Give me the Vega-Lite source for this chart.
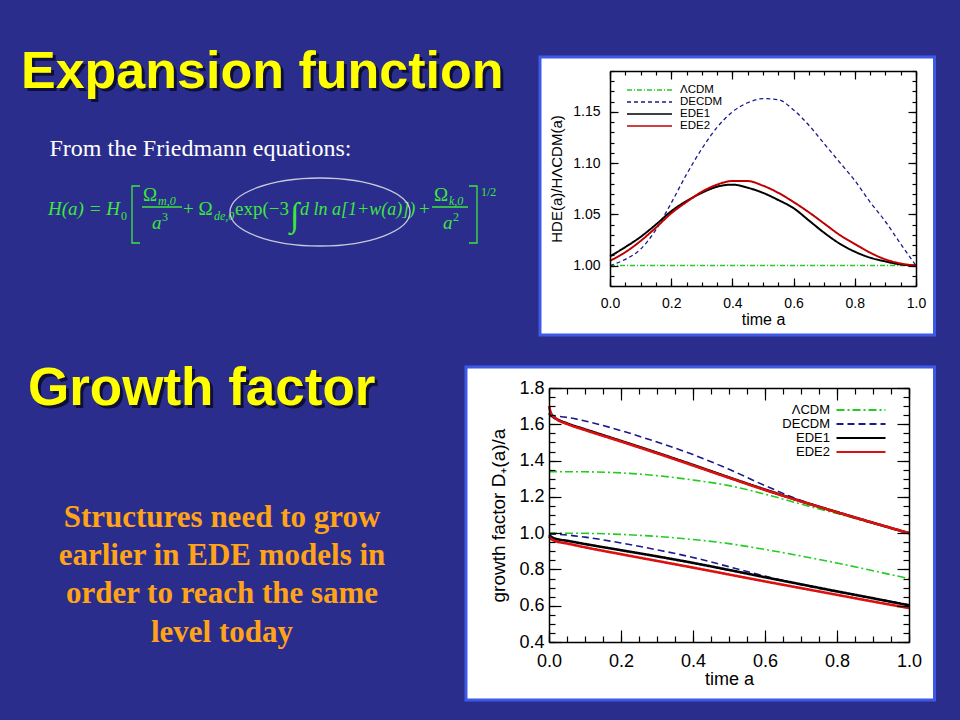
{
  "$schema": "https://vega.github.io/schema/vega-lite/v6.json",
  "background": "#2a2d8c",
  "padding": {"left": 0, "top": 0, "right": 24, "bottom": 0},
  "columns": 2,
  "align": "each",
  "bounds": "flush",
  "spacing": 0,
  "resolve": {"scale": {"color": "independent", "strokeDash": "independent"}, "legend": {"color": "independent", "strokeDash": "independent"}},
  "config": {
    "view": {"stroke": null},
    "axis": {"domainColor": "black", "domainWidth": 1.5, "tickColor": "black", "tickWidth": 1.2, "labelColor": "black", "titleColor": "black", "labelFont": "Liberation Sans", "titleFont": "Liberation Sans", "titleFontWeight": "normal", "grid": false, "labelFlush": false, "labelOverlap": false},
    "legend": {"labelColor": "black", "labelFont": "Liberation Sans", "padding": 0}
  },
  "datasets": {
    "slide": [{
      "title1": "Expansion function",
      "sub": "From the Friedmann equations:",
      "f1": "H(a) = H", "f2": "0", "f4": "Ω", "f5": "m,0", "f7": "a", "f8": "3",
      "f9": "+ Ω", "f10": "de,0", "f11": "exp(−3", "f12": "∫", "f13": "d ln a[1+w(a)])", "f14": "+",
      "f15": "Ω", "f16": "k,0", "f18": "a", "f19": "2", "f21": "1/2",
      "title2": "Growth factor",
      "body": "Structures need to grow\nearlier in EDE models in\norder to reach the same\nlevel today"
    }],
    "expansion": [
      {"series": "ΛCDM", "a": 0, "h": 1.0}, {"series": "ΛCDM", "a": 1, "h": 1.0},
      {"series": "DECDM", "a": 0, "h": 1.0}, {"series": "DECDM", "a": 0.05, "h": 1.006}, {"series": "DECDM", "a": 0.1, "h": 1.016}, {"series": "DECDM", "a": 0.15, "h": 1.035}, {"series": "DECDM", "a": 0.2, "h": 1.061}, {"series": "DECDM", "a": 0.25, "h": 1.089}, {"series": "DECDM", "a": 0.3, "h": 1.114}, {"series": "DECDM", "a": 0.35, "h": 1.135}, {"series": "DECDM", "a": 0.4, "h": 1.15}, {"series": "DECDM", "a": 0.45, "h": 1.159}, {"series": "DECDM", "a": 0.5, "h": 1.163}, {"series": "DECDM", "a": 0.55, "h": 1.162}, {"series": "DECDM", "a": 0.6, "h": 1.152}, {"series": "DECDM", "a": 0.65, "h": 1.137}, {"series": "DECDM", "a": 0.7, "h": 1.119}, {"series": "DECDM", "a": 0.75, "h": 1.101}, {"series": "DECDM", "a": 0.8, "h": 1.083}, {"series": "DECDM", "a": 0.85, "h": 1.062}, {"series": "DECDM", "a": 0.9, "h": 1.043}, {"series": "DECDM", "a": 0.95, "h": 1.021}, {"series": "DECDM", "a": 1, "h": 1.0},
      {"series": "EDE1", "a": 0, "h": 1.009}, {"series": "EDE1", "a": 0.05, "h": 1.018}, {"series": "EDE1", "a": 0.1, "h": 1.028}, {"series": "EDE1", "a": 0.15, "h": 1.04}, {"series": "EDE1", "a": 0.2, "h": 1.053}, {"series": "EDE1", "a": 0.25, "h": 1.063}, {"series": "EDE1", "a": 0.3, "h": 1.071}, {"series": "EDE1", "a": 0.35, "h": 1.077}, {"series": "EDE1", "a": 0.4, "h": 1.079}, {"series": "EDE1", "a": 0.45, "h": 1.076}, {"series": "EDE1", "a": 0.5, "h": 1.071}, {"series": "EDE1", "a": 0.55, "h": 1.064}, {"series": "EDE1", "a": 0.6, "h": 1.056}, {"series": "EDE1", "a": 0.65, "h": 1.044}, {"series": "EDE1", "a": 0.7, "h": 1.032}, {"series": "EDE1", "a": 0.75, "h": 1.0215}, {"series": "EDE1", "a": 0.8, "h": 1.0135}, {"series": "EDE1", "a": 0.85, "h": 1.0077}, {"series": "EDE1", "a": 0.9, "h": 1.004}, {"series": "EDE1", "a": 0.95, "h": 1.001}, {"series": "EDE1", "a": 1, "h": 1.0},
      {"series": "EDE2", "a": 0, "h": 1.0046}, {"series": "EDE2", "a": 0.05, "h": 1.013}, {"series": "EDE2", "a": 0.1, "h": 1.024}, {"series": "EDE2", "a": 0.15, "h": 1.037}, {"series": "EDE2", "a": 0.2, "h": 1.051}, {"series": "EDE2", "a": 0.25, "h": 1.062}, {"series": "EDE2", "a": 0.3, "h": 1.072}, {"series": "EDE2", "a": 0.35, "h": 1.079}, {"series": "EDE2", "a": 0.4, "h": 1.0826}, {"series": "EDE2", "a": 0.45, "h": 1.0825}, {"series": "EDE2", "a": 0.5, "h": 1.078}, {"series": "EDE2", "a": 0.55, "h": 1.071}, {"series": "EDE2", "a": 0.6, "h": 1.062}, {"series": "EDE2", "a": 0.65, "h": 1.052}, {"series": "EDE2", "a": 0.7, "h": 1.041}, {"series": "EDE2", "a": 0.75, "h": 1.03}, {"series": "EDE2", "a": 0.8, "h": 1.021}, {"series": "EDE2", "a": 0.85, "h": 1.0126}, {"series": "EDE2", "a": 0.9, "h": 1.006}, {"series": "EDE2", "a": 0.95, "h": 1.002}, {"series": "EDE2", "a": 1, "h": 1.0}
    ],
    "growth": [
      {"series": "ΛCDM", "group": "upper", "a": 0, "d": 1.339}, {"series": "ΛCDM", "group": "upper", "a": 0.1, "d": 1.338}, {"series": "ΛCDM", "group": "upper", "a": 0.2, "d": 1.332}, {"series": "ΛCDM", "group": "upper", "a": 0.3, "d": 1.317}, {"series": "ΛCDM", "group": "upper", "a": 0.4, "d": 1.293}, {"series": "ΛCDM", "group": "upper", "a": 0.5, "d": 1.262}, {"series": "ΛCDM", "group": "upper", "a": 0.6, "d": 1.215}, {"series": "ΛCDM", "group": "upper", "a": 0.7, "d": 1.16}, {"series": "ΛCDM", "group": "upper", "a": 0.8, "d": 1.108}, {"series": "ΛCDM", "group": "upper", "a": 0.9, "d": 1.054}, {"series": "ΛCDM", "group": "upper", "a": 1, "d": 1.0},
      {"series": "ΛCDM", "group": "lower", "a": 0, "d": 1.0}, {"series": "ΛCDM", "group": "lower", "a": 0.1, "d": 0.999}, {"series": "ΛCDM", "group": "lower", "a": 0.2, "d": 0.993}, {"series": "ΛCDM", "group": "lower", "a": 0.3, "d": 0.982}, {"series": "ΛCDM", "group": "lower", "a": 0.4, "d": 0.965}, {"series": "ΛCDM", "group": "lower", "a": 0.5, "d": 0.942}, {"series": "ΛCDM", "group": "lower", "a": 0.6, "d": 0.91}, {"series": "ΛCDM", "group": "lower", "a": 0.7, "d": 0.874}, {"series": "ΛCDM", "group": "lower", "a": 0.8, "d": 0.835}, {"series": "ΛCDM", "group": "lower", "a": 0.9, "d": 0.793}, {"series": "ΛCDM", "group": "lower", "a": 1, "d": 0.749},
      {"series": "DECDM", "group": "upper", "a": 0, "d": 1.647}, {"series": "DECDM", "group": "upper", "a": 0.05, "d": 1.638}, {"series": "DECDM", "group": "upper", "a": 0.1, "d": 1.618}, {"series": "DECDM", "group": "upper", "a": 0.2, "d": 1.565}, {"series": "DECDM", "group": "upper", "a": 0.3, "d": 1.502}, {"series": "DECDM", "group": "upper", "a": 0.4, "d": 1.433}, {"series": "DECDM", "group": "upper", "a": 0.5, "d": 1.352}, {"series": "DECDM", "group": "upper", "a": 0.6, "d": 1.262}, {"series": "DECDM", "group": "upper", "a": 0.7, "d": 1.18}, {"series": "DECDM", "group": "upper", "a": 0.8, "d": 1.115}, {"series": "DECDM", "group": "upper", "a": 0.9, "d": 1.057}, {"series": "DECDM", "group": "upper", "a": 1, "d": 1.0},
      {"series": "DECDM", "group": "lower", "a": 0, "d": 0.996}, {"series": "DECDM", "group": "lower", "a": 0.05, "d": 0.99}, {"series": "DECDM", "group": "lower", "a": 0.1, "d": 0.978}, {"series": "DECDM", "group": "lower", "a": 0.2, "d": 0.946}, {"series": "DECDM", "group": "lower", "a": 0.3, "d": 0.908}, {"series": "DECDM", "group": "lower", "a": 0.4, "d": 0.866}, {"series": "DECDM", "group": "lower", "a": 0.5, "d": 0.815}, {"series": "DECDM", "group": "lower", "a": 0.6, "d": 0.763}, {"series": "DECDM", "group": "lower", "a": 0.7, "d": 0.716}, {"series": "DECDM", "group": "lower", "a": 0.8, "d": 0.677}, {"series": "DECDM", "group": "lower", "a": 0.9, "d": 0.641}, {"series": "DECDM", "group": "lower", "a": 1, "d": 0.605},
      {"series": "EDE1", "group": "upper", "a": 0, "d": 1.662}, {"series": "EDE1", "group": "upper", "a": 0.01, "d": 1.642}, {"series": "EDE1", "group": "upper", "a": 0.02, "d": 1.63}, {"series": "EDE1", "group": "upper", "a": 0.05, "d": 1.605}, {"series": "EDE1", "group": "upper", "a": 0.1, "d": 1.572}, {"series": "EDE1", "group": "upper", "a": 0.2, "d": 1.508}, {"series": "EDE1", "group": "upper", "a": 0.3, "d": 1.443}, {"series": "EDE1", "group": "upper", "a": 0.4, "d": 1.376}, {"series": "EDE1", "group": "upper", "a": 0.5, "d": 1.307}, {"series": "EDE1", "group": "upper", "a": 0.6, "d": 1.24}, {"series": "EDE1", "group": "upper", "a": 0.7, "d": 1.176}, {"series": "EDE1", "group": "upper", "a": 0.8, "d": 1.116}, {"series": "EDE1", "group": "upper", "a": 0.9, "d": 1.057}, {"series": "EDE1", "group": "upper", "a": 1, "d": 1.0},
      {"series": "EDE1", "group": "lower", "a": 0, "d": 0.99}, {"series": "EDE1", "group": "lower", "a": 0.01, "d": 0.975}, {"series": "EDE1", "group": "lower", "a": 0.02, "d": 0.968}, {"series": "EDE1", "group": "lower", "a": 0.05, "d": 0.958}, {"series": "EDE1", "group": "lower", "a": 0.1, "d": 0.94}, {"series": "EDE1", "group": "lower", "a": 0.2, "d": 0.906}, {"series": "EDE1", "group": "lower", "a": 0.3, "d": 0.872}, {"series": "EDE1", "group": "lower", "a": 0.4, "d": 0.836}, {"series": "EDE1", "group": "lower", "a": 0.5, "d": 0.797}, {"series": "EDE1", "group": "lower", "a": 0.6, "d": 0.757}, {"series": "EDE1", "group": "lower", "a": 0.7, "d": 0.718}, {"series": "EDE1", "group": "lower", "a": 0.8, "d": 0.679}, {"series": "EDE1", "group": "lower", "a": 0.9, "d": 0.641}, {"series": "EDE1", "group": "lower", "a": 1, "d": 0.602},
      {"series": "EDE2", "group": "upper", "a": 0, "d": 1.7}, {"series": "EDE2", "group": "upper", "a": 0.005, "d": 1.665}, {"series": "EDE2", "group": "upper", "a": 0.01, "d": 1.648}, {"series": "EDE2", "group": "upper", "a": 0.02, "d": 1.63}, {"series": "EDE2", "group": "upper", "a": 0.05, "d": 1.602}, {"series": "EDE2", "group": "upper", "a": 0.1, "d": 1.568}, {"series": "EDE2", "group": "upper", "a": 0.2, "d": 1.505}, {"series": "EDE2", "group": "upper", "a": 0.3, "d": 1.44}, {"series": "EDE2", "group": "upper", "a": 0.4, "d": 1.373}, {"series": "EDE2", "group": "upper", "a": 0.5, "d": 1.305}, {"series": "EDE2", "group": "upper", "a": 0.6, "d": 1.238}, {"series": "EDE2", "group": "upper", "a": 0.7, "d": 1.175}, {"series": "EDE2", "group": "upper", "a": 0.8, "d": 1.115}, {"series": "EDE2", "group": "upper", "a": 0.9, "d": 1.057}, {"series": "EDE2", "group": "upper", "a": 1, "d": 1.0},
      {"series": "EDE2", "group": "lower", "a": 0, "d": 0.982}, {"series": "EDE2", "group": "lower", "a": 0.005, "d": 0.97}, {"series": "EDE2", "group": "lower", "a": 0.01, "d": 0.963}, {"series": "EDE2", "group": "lower", "a": 0.02, "d": 0.955}, {"series": "EDE2", "group": "lower", "a": 0.05, "d": 0.943}, {"series": "EDE2", "group": "lower", "a": 0.1, "d": 0.922}, {"series": "EDE2", "group": "lower", "a": 0.2, "d": 0.884}, {"series": "EDE2", "group": "lower", "a": 0.3, "d": 0.847}, {"series": "EDE2", "group": "lower", "a": 0.4, "d": 0.81}, {"series": "EDE2", "group": "lower", "a": 0.5, "d": 0.772}, {"series": "EDE2", "group": "lower", "a": 0.6, "d": 0.734}, {"series": "EDE2", "group": "lower", "a": 0.7, "d": 0.697}, {"series": "EDE2", "group": "lower", "a": 0.8, "d": 0.66}, {"series": "EDE2", "group": "lower", "a": 0.9, "d": 0.623}, {"series": "EDE2", "group": "lower", "a": 1, "d": 0.587}
    ]
  },
  "concat": [
    {
      "width": 549, "height": 340,
      "data": {"name": "slide"},
      "layer": [
        {"mark": {"type": "rect", "opacity": 0}},
        {"mark": {"type": "text", "align": "left", "baseline": "alphabetic", "dx": -250.5, "dy": -79, "font": "Liberation Sans", "fontSize": 52, "fontWeight": "bold", "color": "#0a0a28", "opacity": 0.85}, "encoding": {"text": {"field": "title1"}}},
        {"mark": {"type": "text", "align": "left", "baseline": "alphabetic", "dx": -253.5, "dy": -82, "font": "Liberation Sans", "fontSize": 52, "fontWeight": "bold", "color": "#ffff00"}, "encoding": {"text": {"field": "title1"}}},
        {"mark": {"type": "text", "align": "left", "baseline": "alphabetic", "dx": -225, "dy": -14, "font": "Liberation Serif", "fontSize": 24, "color": "#ffffff"}, "encoding": {"text": {"field": "sub"}}},
        {"mark": {"type": "text", "align": "left", "baseline": "alphabetic", "dx": -226.5, "dy": 45, "font": "Liberation Serif", "fontStyle": "italic", "fontSize": 19, "color": "#3de83d"}, "encoding": {"text": {"field": "f1"}}},
        {"mark": {"type": "text", "align": "left", "baseline": "alphabetic", "dx": -153.5, "dy": 50, "font": "Liberation Serif", "fontSize": 12, "color": "#3de83d"}, "encoding": {"text": {"field": "f2"}}},
        {"mark": {"type": "text", "align": "left", "baseline": "alphabetic", "dx": -131.5, "dy": 31, "font": "Liberation Serif", "fontSize": 19, "color": "#3de83d"}, "encoding": {"text": {"field": "f4"}}},
        {"mark": {"type": "text", "align": "left", "baseline": "alphabetic", "dx": -116.5, "dy": 35, "font": "Liberation Serif", "fontStyle": "italic", "fontSize": 12, "color": "#3de83d"}, "encoding": {"text": {"field": "f5"}}},
        {"mark": {"type": "text", "align": "left", "baseline": "alphabetic", "dx": -122.5, "dy": 59, "font": "Liberation Serif", "fontStyle": "italic", "fontSize": 19, "color": "#3de83d"}, "encoding": {"text": {"field": "f7"}}},
        {"mark": {"type": "text", "align": "left", "baseline": "alphabetic", "dx": -112.5, "dy": 51, "font": "Liberation Serif", "fontSize": 12, "color": "#3de83d"}, "encoding": {"text": {"field": "f8"}}},
        {"mark": {"type": "text", "align": "left", "baseline": "alphabetic", "dx": -91.5, "dy": 45, "font": "Liberation Serif", "fontSize": 19, "color": "#3de83d"}, "encoding": {"text": {"field": "f9"}}},
        {"mark": {"type": "text", "align": "left", "baseline": "alphabetic", "dx": -60.5, "dy": 50, "font": "Liberation Serif", "fontStyle": "italic", "fontSize": 12, "color": "#3de83d"}, "encoding": {"text": {"field": "f10"}}},
        {"mark": {"type": "text", "align": "left", "baseline": "alphabetic", "dx": -39.5, "dy": 45, "font": "Liberation Serif", "fontSize": 19, "color": "#3de83d"}, "encoding": {"text": {"field": "f11"}}},
        {"mark": {"type": "text", "align": "left", "baseline": "alphabetic", "dx": 15.5, "dy": 56, "font": "Liberation Serif", "fontSize": 34, "color": "#3de83d"}, "encoding": {"text": {"field": "f12"}}},
        {"mark": {"type": "text", "align": "left", "baseline": "alphabetic", "dx": 25.5, "dy": 45, "font": "Liberation Serif", "fontStyle": "italic", "fontSize": 18, "color": "#3de83d"}, "encoding": {"text": {"field": "f13"}}},
        {"mark": {"type": "text", "align": "left", "baseline": "alphabetic", "dx": 144.5, "dy": 45, "font": "Liberation Serif", "fontSize": 19, "color": "#3de83d"}, "encoding": {"text": {"field": "f14"}}},
        {"mark": {"type": "text", "align": "left", "baseline": "alphabetic", "dx": 159.5, "dy": 31, "font": "Liberation Serif", "fontSize": 19, "color": "#3de83d"}, "encoding": {"text": {"field": "f15"}}},
        {"mark": {"type": "text", "align": "left", "baseline": "alphabetic", "dx": 174.5, "dy": 35, "font": "Liberation Serif", "fontStyle": "italic", "fontSize": 12, "color": "#3de83d"}, "encoding": {"text": {"field": "f16"}}},
        {"mark": {"type": "text", "align": "left", "baseline": "alphabetic", "dx": 168.5, "dy": 59, "font": "Liberation Serif", "fontStyle": "italic", "fontSize": 19, "color": "#3de83d"}, "encoding": {"text": {"field": "f18"}}},
        {"mark": {"type": "text", "align": "left", "baseline": "alphabetic", "dx": 178.5, "dy": 51, "font": "Liberation Serif", "fontSize": 12, "color": "#3de83d"}, "encoding": {"text": {"field": "f19"}}},
        {"mark": {"type": "text", "align": "left", "baseline": "alphabetic", "dx": 206.5, "dy": 26, "font": "Liberation Serif", "fontSize": 12, "color": "#3de83d"}, "encoding": {"text": {"field": "f21"}}},
        {"mark": {"type": "point", "shape": "M-13.45,1.6L-14.25,1.6L-14.25,7.3L-13.45,7.3M19.45,1.6L20.25,1.6L20.25,7.3L19.45,7.3M-13.25,3.7L-9.25,3.7M15.75,3.7L19.35,3.7", "size": 400, "filled": false, "stroke": "#3de83d", "strokeWidth": 1.3, "opacity": 1}},
        {"mark": {"type": "point", "shape": "M-1.4833,1.4A3,1.1333 0 1,0 4.5167,1.4A3,1.1333 0 1,0 -1.4833,1.4", "size": 3600, "filled": false, "stroke": "#c8c8dc", "strokeWidth": 1.3, "opacity": 1}}
      ]
    },
    {
      "width": 367, "height": 340,
      "layer": [
        {
          "data": {"values": [{}]},
          "mark": {"type": "rect", "fill": "white", "stroke": "#3c5ae6", "strokeWidth": 3},
          "encoding": {
            "x": {"datum": -0.2288, "type": "quantitative", "scale": {"domain": [0, 1], "range": [61, 367], "nice": false, "zero": false}, "axis": null},
            "x2": {"datum": 1.0605},
            "y": {"datum": 0.9321, "type": "quantitative", "scale": {"domain": [0.98, 1.19], "range": [286, 71], "nice": false, "zero": false}, "axis": null},
            "y2": {"datum": 1.2037}
          }
        },
        {
          "data": {"name": "expansion"},
          "transform": [{"filter": {"field": "series", "oneOf": ["ΛCDM", "DECDM"]}}],
          "mark": {"type": "line", "interpolate": "monotone", "strokeWidth": 1.3},
          "encoding": {
            "x": {"field": "a", "type": "quantitative", "scale": {"domain": [0, 1], "range": [61, 367], "nice": false, "zero": false},
                  "axis": {"orient": "bottom", "offset": -54, "values": [0, 0.2, 0.4, 0.6, 0.8, 1], "format": ".1f", "tickSize": -8, "labelPadding": 18, "labelFontSize": 14, "title": "time a", "titleFontSize": 16, "titlePadding": 1, "zindex": 1}},
            "y": {"field": "h", "type": "quantitative", "scale": {"domain": [0.98, 1.19], "range": [286, 71], "nice": false, "zero": false},
                  "axis": {"orient": "left", "offset": -61, "values": [1, 1.05, 1.1, 1.15], "format": ".2f", "tickSize": -8, "labelPadding": 18, "labelFontSize": 14, "title": "HDE(a)/HΛCDM(a)", "titleFontSize": 15, "titlePadding": 8, "zindex": 1}},
            "color": {"field": "series", "type": "nominal", "scale": {"domain": ["ΛCDM", "DECDM", "EDE1", "EDE2"], "range": ["#22cc22", "#1a1a8c", "#000000", "#c00000"]},
                      "legend": {"orient": "none", "legendX": 72, "legendY": 84, "title": null, "symbolType": "M0,0L9,0", "symbolSize": 100, "symbolStrokeWidth": 1.3, "symbolFillColor": "transparent", "labelFontSize": 11.5, "labelOffset": 47, "rowPadding": 0}},
            "strokeDash": {"field": "series", "type": "nominal", "scale": {"domain": ["ΛCDM", "DECDM", "EDE1", "EDE2"], "range": [[5, 2, 1, 2], [4, 3], [1, 0], [1, 0]]},
                      "legend": {"orient": "none", "legendX": 72, "legendY": 84, "title": null, "symbolType": "M0,0L9,0", "symbolSize": 100, "symbolStrokeWidth": 1.3, "symbolFillColor": "transparent", "labelFontSize": 11.5, "labelOffset": 47, "rowPadding": 0}}
          }
        },
        {
          "data": {"name": "expansion"},
          "transform": [{"filter": {"field": "series", "oneOf": ["EDE1", "EDE2"]}}],
          "mark": {"type": "line", "interpolate": "monotone", "strokeWidth": 2},
          "encoding": {
            "x": {"field": "a", "type": "quantitative", "scale": {"domain": [0, 1], "range": [61, 367], "nice": false, "zero": false}, "axis": null},
            "y": {"field": "h", "type": "quantitative", "scale": {"domain": [0.98, 1.19], "range": [286, 71], "nice": false, "zero": false}, "axis": null},
            "color": {"field": "series", "type": "nominal", "scale": {"domain": ["ΛCDM", "DECDM", "EDE1", "EDE2"], "range": ["#22cc22", "#1a1a8c", "#000000", "#c00000"]}},
            "strokeDash": {"field": "series", "type": "nominal", "scale": {"domain": ["ΛCDM", "DECDM", "EDE1", "EDE2"], "range": [[5, 2, 1, 2], [4, 3], [1, 0], [1, 0]]}}
          }
        },
        {
          "data": {"values": [{}]},
          "mark": {"type": "point", "opacity": 0},
          "encoding": {
            "x": {"datum": 0.5, "type": "quantitative", "scale": {"domain": [0, 1], "range": [61, 367], "nice": false, "zero": false},
                  "axis": {"orient": "bottom", "offset": -54, "values": [0, 0.05, 0.1, 0.15, 0.2, 0.25, 0.3, 0.35, 0.4, 0.45, 0.5, 0.55, 0.6, 0.65, 0.7, 0.75, 0.8, 0.85, 0.9, 0.95, 1], "tickSize": -4, "labels": false, "domain": false, "title": null, "zindex": 1}},
            "y": {"datum": 1.0, "type": "quantitative", "scale": {"domain": [0.98, 1.19], "range": [286, 71], "nice": false, "zero": false},
                  "axis": {"orient": "left", "offset": -61, "values": [0.98, 0.99, 1.0, 1.01, 1.02, 1.03, 1.04, 1.05, 1.06, 1.07, 1.08, 1.09, 1.1, 1.11, 1.12, 1.13, 1.14, 1.15, 1.16, 1.17, 1.18, 1.19], "tickSize": -4, "labels": false, "domain": false, "title": null, "zindex": 1}}
          }
        },
        {
          "data": {"values": [{}]},
          "mark": {"type": "point", "opacity": 0},
          "encoding": {
            "x": {"datum": 0.5, "type": "quantitative", "scale": {"domain": [0, 1], "range": [61, 367], "nice": false, "zero": false},
                  "axis": {"orient": "top", "offset": -71, "values": [0, 0.2, 0.4, 0.6, 0.8, 1], "tickSize": -8, "labels": false, "domain": true, "title": null, "zindex": 1}},
            "y": {"datum": 1.0, "type": "quantitative", "scale": {"domain": [0.98, 1.19], "range": [286, 71], "nice": false, "zero": false},
                  "axis": {"orient": "right", "values": [1, 1.05, 1.1, 1.15], "tickSize": -8, "labels": false, "domain": true, "title": null, "zindex": 1}}
          }
        },
        {
          "data": {"values": [{}]},
          "mark": {"type": "point", "opacity": 0},
          "encoding": {
            "x": {"datum": 0.5, "type": "quantitative", "scale": {"domain": [0, 1], "range": [61, 367], "nice": false, "zero": false},
                  "axis": {"orient": "top", "offset": -71, "values": [0, 0.05, 0.1, 0.15, 0.2, 0.25, 0.3, 0.35, 0.4, 0.45, 0.5, 0.55, 0.6, 0.65, 0.7, 0.75, 0.8, 0.85, 0.9, 0.95, 1], "tickSize": -4, "labels": false, "domain": false, "title": null, "zindex": 1}},
            "y": {"datum": 1.0, "type": "quantitative", "scale": {"domain": [0.98, 1.19], "range": [286, 71], "nice": false, "zero": false},
                  "axis": {"orient": "right", "values": [0.98, 0.99, 1.0, 1.01, 1.02, 1.03, 1.04, 1.05, 1.06, 1.07, 1.08, 1.09, 1.1, 1.11, 1.12, 1.13, 1.14, 1.15, 1.16, 1.17, 1.18, 1.19], "tickSize": -4, "labels": false, "domain": false, "title": null, "zindex": 1}}
          }
        }
      ],
      "resolve": {"axis": {"x": "independent", "y": "independent"}}
    },
    {
      "width": 549, "height": 380,
      "data": {"name": "slide"},
      "layer": [
        {"mark": {"type": "rect", "opacity": 0}},
        {"mark": {"type": "text", "align": "left", "baseline": "alphabetic", "dx": -243.5, "dy": -122, "font": "Liberation Sans", "fontSize": 53, "fontWeight": "bold", "color": "#0a0a28", "opacity": 0.85}, "encoding": {"text": {"field": "title2"}}},
        {"mark": {"type": "text", "align": "left", "baseline": "alphabetic", "dx": -246.5, "dy": -125, "font": "Liberation Sans", "fontSize": 53, "fontWeight": "bold", "color": "#ffff00"}, "encoding": {"text": {"field": "title2"}}},
        {"mark": {"type": "text", "align": "center", "baseline": "alphabetic", "lineBreak": "\n", "lineHeight": 38.3, "dx": -52.5, "dy": -3.3, "font": "Liberation Serif", "fontSize": 31, "fontWeight": "bold", "color": "#ffa318"}, "encoding": {"text": {"field": "body"}}}
      ]
    },
    {
      "width": 360, "height": 380,
      "layer": [
        {
          "data": {"values": [{}]},
          "mark": {"type": "rect", "fill": "white", "stroke": "#3c5ae6", "strokeWidth": 3},
          "encoding": {
            "x": {"datum": -0.2306, "type": "quantitative", "scale": {"domain": [0, 1], "range": [0, 360], "nice": false, "zero": false}, "axis": null},
            "x2": {"datum": 1.0708},
            "y": {"datum": 0.0803, "type": "quantitative", "scale": {"domain": [0.4, 1.8], "range": [302, 48], "nice": false, "zero": false}, "axis": null},
            "y2": {"datum": 1.9157}
          }
        },
        {
          "data": {"name": "growth"},
          "transform": [{"filter": {"field": "series", "oneOf": ["ΛCDM", "DECDM"]}}],
          "mark": {"type": "line", "interpolate": "monotone", "strokeWidth": 1.6},
          "encoding": {
            "x": {"field": "a", "type": "quantitative", "scale": {"domain": [0, 1], "range": [0, 360], "nice": false, "zero": false},
                  "axis": {"orient": "bottom", "offset": -78, "values": [0, 0.2, 0.4, 0.6, 0.8, 1], "format": ".1f", "tickSize": -12, "labelPadding": 22, "labelFontSize": 18, "title": "time a", "titleFontSize": 18, "titlePadding": 0, "zindex": 1}},
            "y": {"field": "d", "type": "quantitative", "scale": {"domain": [0.4, 1.8], "range": [302, 48], "nice": false, "zero": false},
                  "axis": {"orient": "left", "values": [0.4, 0.6, 0.8, 1, 1.2, 1.4, 1.6, 1.8], "format": ".1f", "tickSize": -12, "labelPadding": 17, "labelFontSize": 18, "title": "growth factor D₊(a)/a", "titleFontSize": 19, "titlePadding": 10, "zindex": 1}},
            "detail": {"field": "group", "type": "nominal"},
            "color": {"field": "series", "type": "nominal", "scale": {"domain": ["ΛCDM", "DECDM", "EDE1", "EDE2"], "range": ["#22cc22", "#1a1a8c", "#000000", "#dd1010"]},
                      "legend": {"orient": "none", "legendX": 281, "legendY": 63.5, "title": null, "symbolType": "M0,0L9.8,0", "symbolSize": 100, "symbolStrokeWidth": 2, "symbolFillColor": "transparent", "labelFontSize": 13, "labelAlign": "right", "labelOffset": -13, "rowPadding": 0}},
            "strokeDash": {"field": "series", "type": "nominal", "scale": {"domain": ["ΛCDM", "DECDM", "EDE1", "EDE2"], "range": [[8, 3, 2, 3], [7, 4], [1, 0], [1, 0]]},
                      "legend": {"orient": "none", "legendX": 281, "legendY": 63.5, "title": null, "symbolType": "M0,0L9.8,0", "symbolSize": 100, "symbolStrokeWidth": 2, "symbolFillColor": "transparent", "labelFontSize": 13, "labelAlign": "right", "labelOffset": -13, "rowPadding": 0}}
          }
        },
        {
          "data": {"name": "growth"},
          "transform": [{"filter": {"field": "series", "oneOf": ["EDE1", "EDE2"]}}],
          "mark": {"type": "line", "interpolate": "monotone", "strokeWidth": 2.6},
          "encoding": {
            "x": {"field": "a", "type": "quantitative", "scale": {"domain": [0, 1], "range": [0, 360], "nice": false, "zero": false}, "axis": null},
            "y": {"field": "d", "type": "quantitative", "scale": {"domain": [0.4, 1.8], "range": [302, 48], "nice": false, "zero": false}, "axis": null},
            "detail": {"field": "group", "type": "nominal"},
            "color": {"field": "series", "type": "nominal", "scale": {"domain": ["ΛCDM", "DECDM", "EDE1", "EDE2"], "range": ["#22cc22", "#1a1a8c", "#000000", "#dd1010"]}},
            "strokeDash": {"field": "series", "type": "nominal", "scale": {"domain": ["ΛCDM", "DECDM", "EDE1", "EDE2"], "range": [[8, 3, 2, 3], [7, 4], [1, 0], [1, 0]]}}
          }
        },
        {
          "data": {"values": [{}]},
          "mark": {"type": "point", "opacity": 0},
          "encoding": {
            "x": {"datum": 0.5, "type": "quantitative", "scale": {"domain": [0, 1], "range": [0, 360], "nice": false, "zero": false},
                  "axis": {"orient": "bottom", "offset": -78, "values": [0, 0.05, 0.1, 0.15, 0.2, 0.25, 0.3, 0.35, 0.4, 0.45, 0.5, 0.55, 0.6, 0.65, 0.7, 0.75, 0.8, 0.85, 0.9, 0.95, 1], "tickSize": -6, "labels": false, "domain": false, "title": null, "zindex": 1}},
            "y": {"datum": 1.0, "type": "quantitative", "scale": {"domain": [0.4, 1.8], "range": [302, 48], "nice": false, "zero": false},
                  "axis": {"orient": "left", "values": [0.4, 0.45, 0.5, 0.55, 0.6, 0.65, 0.7, 0.75, 0.8, 0.85, 0.9, 0.95, 1, 1.05, 1.1, 1.15, 1.2, 1.25, 1.3, 1.35, 1.4, 1.45, 1.5, 1.55, 1.6, 1.65, 1.7, 1.75, 1.8], "tickSize": -6, "labels": false, "domain": false, "title": null, "zindex": 1}}
          }
        },
        {
          "data": {"values": [{}]},
          "mark": {"type": "point", "opacity": 0},
          "encoding": {
            "x": {"datum": 0.5, "type": "quantitative", "scale": {"domain": [0, 1], "range": [0, 360], "nice": false, "zero": false},
                  "axis": {"orient": "top", "offset": -48, "values": [0, 0.2, 0.4, 0.6, 0.8, 1], "tickSize": -12, "labels": false, "domain": true, "title": null, "zindex": 1}},
            "y": {"datum": 1.0, "type": "quantitative", "scale": {"domain": [0.4, 1.8], "range": [302, 48], "nice": false, "zero": false},
                  "axis": {"orient": "right", "values": [0.4, 0.6, 0.8, 1, 1.2, 1.4, 1.6, 1.8], "tickSize": -12, "labels": false, "domain": true, "title": null, "zindex": 1}}
          }
        },
        {
          "data": {"values": [{}]},
          "mark": {"type": "point", "opacity": 0},
          "encoding": {
            "x": {"datum": 0.5, "type": "quantitative", "scale": {"domain": [0, 1], "range": [0, 360], "nice": false, "zero": false},
                  "axis": {"orient": "top", "offset": -48, "values": [0, 0.05, 0.1, 0.15, 0.2, 0.25, 0.3, 0.35, 0.4, 0.45, 0.5, 0.55, 0.6, 0.65, 0.7, 0.75, 0.8, 0.85, 0.9, 0.95, 1], "tickSize": -6, "labels": false, "domain": false, "title": null, "zindex": 1}},
            "y": {"datum": 1.0, "type": "quantitative", "scale": {"domain": [0.4, 1.8], "range": [302, 48], "nice": false, "zero": false},
                  "axis": {"orient": "right", "values": [0.4, 0.45, 0.5, 0.55, 0.6, 0.65, 0.7, 0.75, 0.8, 0.85, 0.9, 0.95, 1, 1.05, 1.1, 1.15, 1.2, 1.25, 1.3, 1.35, 1.4, 1.45, 1.5, 1.55, 1.6, 1.65, 1.7, 1.75, 1.8], "tickSize": -6, "labels": false, "domain": false, "title": null, "zindex": 1}}
          }
        }
      ],
      "resolve": {"axis": {"x": "independent", "y": "independent"}}
    }
  ]
}
